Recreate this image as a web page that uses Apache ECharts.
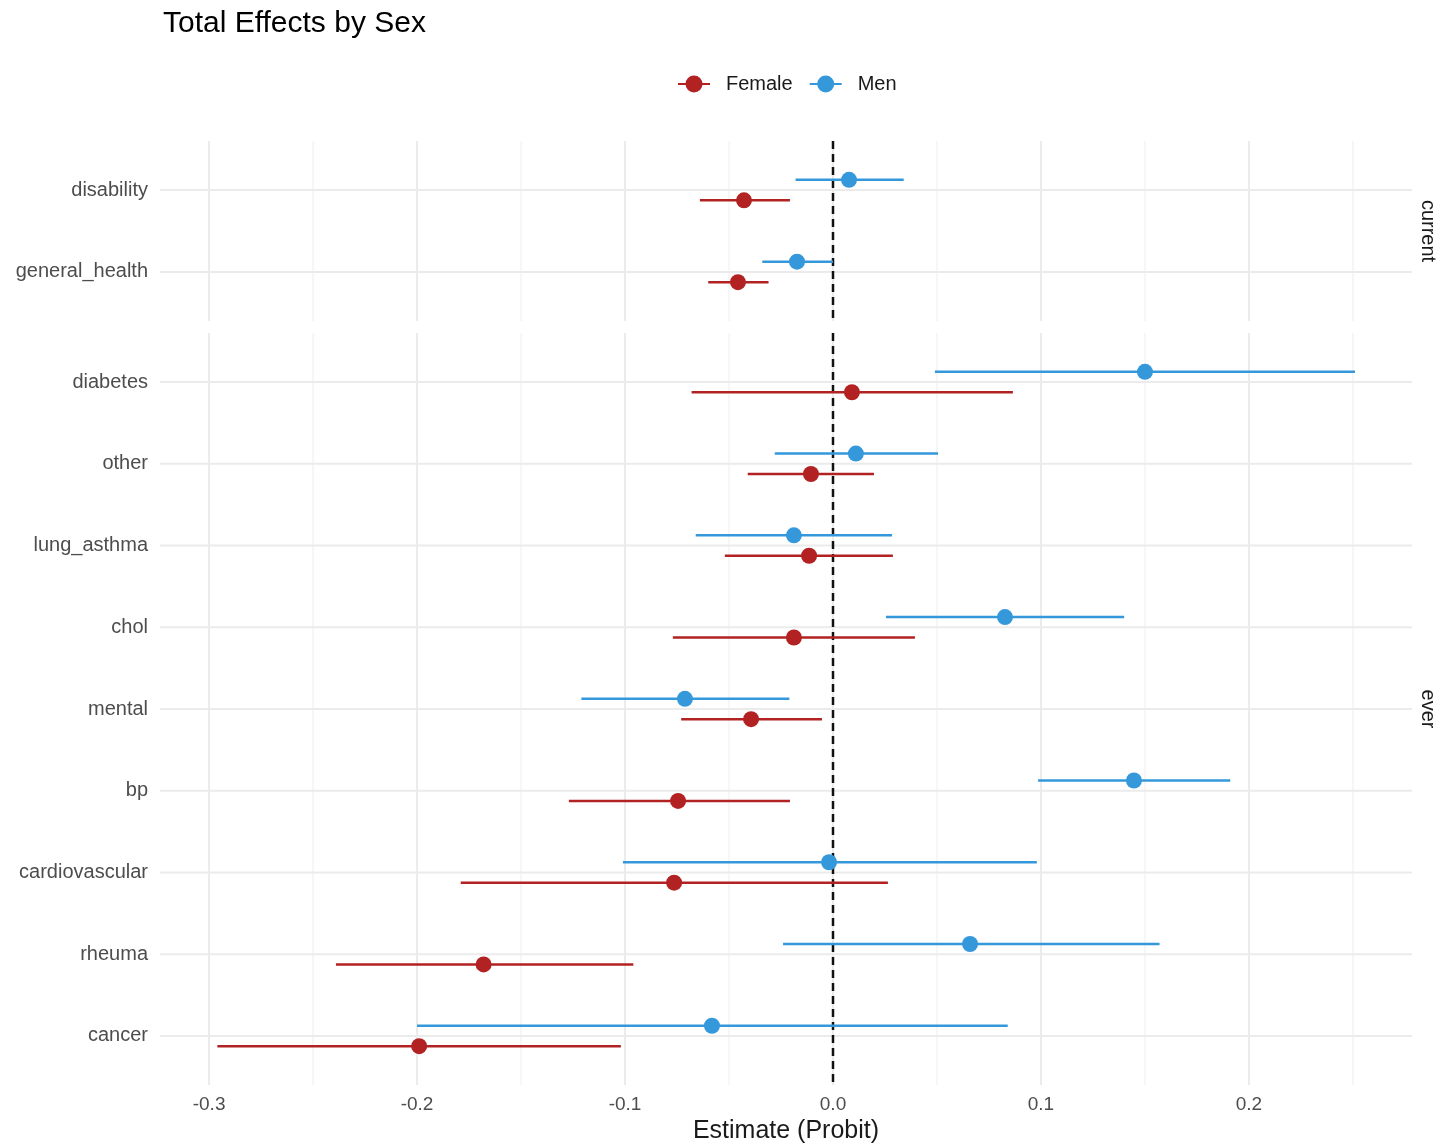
<!DOCTYPE html>
<html>
<head>
<meta charset="utf-8">
<script src="https://cdn.jsdelivr.net/npm/echarts@6/dist/echarts.min.js"></script>
<style>html,body{margin:0;padding:0;background:#fff}#c{width:1444px;height:1146px}</style>
</head>
<body>
<div id="c"></div>
<script>
// ---- data ----
var currentCats = ['disability', 'general_health'];
var everCats = ['diabetes', 'other', 'lung_asthma', 'chol', 'mental', 'bp', 'cardiovascular', 'rheuma', 'cancer'];

// [estimate, lower, upper] per category, in the order above
var femaleCurrent = [[-0.0428, -0.064, -0.0207], [-0.0457, -0.060, -0.031]];
var menCurrent = [[0.0077, -0.018, 0.034], [-0.0173, -0.034, 0.0]];
var femaleEver = [
  [0.0091, -0.068, 0.0865],
  [-0.0106, -0.041, 0.0197],
  [-0.0115, -0.052, 0.0288],
  [-0.0188, -0.077, 0.0394],
  [-0.0394, -0.073, -0.0053],
  [-0.0745, -0.127, -0.0207],
  [-0.0764, -0.179, 0.0264],
  [-0.168, -0.239, -0.096],
  [-0.199, -0.296, -0.102]
];
var menEver = [
  [0.150, 0.049, 0.251],
  [0.011, -0.028, 0.0505],
  [-0.0188, -0.066, 0.0284],
  [0.0827, 0.0255, 0.140],
  [-0.0712, -0.121, -0.021],
  [0.1447, 0.0986, 0.191],
  [-0.0019, -0.101, 0.098],
  [0.0659, -0.024, 0.157],
  [-0.0582, -0.200, 0.084]
];
var xMajorTicks = [-0.3, -0.2, -0.1, 0.0, 0.1, 0.2];
var xMinorTicks = [-0.25, -0.15, -0.05, 0.05, 0.15, 0.25];
var xMin = -0.3236, xMax = 0.2784;

// ---- styling ----
var RED = '#B22222', BLUE = '#3498DB';
var DODGE = 0.125;
var FONT = '"Liberation Sans", Arial, sans-serif';

function rows(arr, off) {
  return arr.map(function (d, i) { return [d[0], d[1], d[2], i + off]; });
}

function renderCI(color) {
  return function (params, api) {
    var est = api.value(0), lo = api.value(1), hi = api.value(2), y = api.value(3);
    var pLo = api.coord([lo, y]), pHi = api.coord([hi, y]), pE = api.coord([est, y]);
    return {
      type: 'group',
      children: [
        { type: 'line', shape: { x1: pLo[0], y1: pLo[1], x2: pHi[0], y2: pHi[1] }, style: { stroke: color, lineWidth: 2.5 } },
        { type: 'circle', shape: { cx: pE[0], cy: pE[1], r: 8 }, style: { fill: color } }
      ]
    };
  };
}

function gridLinesSeries(gi, cats) {
  var data = [];
  xMinorTicks.forEach(function (t) { data.push([t, 'vminor']); });
  xMajorTicks.forEach(function (t) { data.push([t, 'vmajor']); });
  cats.forEach(function (c, i) { data.push([i, 'h']); });
  return {
    type: 'custom', xAxisIndex: gi, yAxisIndex: gi, silent: true, z: 0,
    data: data,
    encode: { x: -1, y: -1 },
    renderItem: function (params, api) {
      var cs = params.coordSys;
      var v = api.value(0), kind = data[params.dataIndex][1];
      if (kind === 'h') {
        var p = api.coord([0, v]);
        return { type: 'line', shape: { x1: cs.x, y1: p[1], x2: cs.x + cs.width, y2: p[1] }, style: { stroke: '#EBEBEB', lineWidth: 2 } };
      }
      var q = api.coord([v, 0]);
      return { type: 'line', shape: { x1: q[0], y1: cs.y, x2: q[0], y2: cs.y + cs.height },
        style: { stroke: kind === 'vmajor' ? '#EBEBEB' : '#F2F2F2', lineWidth: kind === 'vmajor' ? 2 : 1.3 } };
    }
  };
}

function zeroLine(gi) {
  return {
    type: 'custom', xAxisIndex: gi, yAxisIndex: gi, silent: true, z: 1,
    data: [[0]], encode: { x: 0, y: -1 },
    renderItem: function (params, api) {
      var cs = params.coordSys;
      var p = api.coord([0, 0]);
      return { type: 'line', shape: { x1: p[0], y1: cs.y, x2: p[0], y2: cs.y + cs.height },
        style: { stroke: '#111', lineWidth: 2.5, lineDash: [8, 5] } };
    }
  };
}

function yAxisFor(gi, cats) {
  return {
    type: 'value', gridIndex: gi, inverse: true,
    min: -0.6, max: cats.length - 0.4,
    splitLine: { show: false }, axisLine: { show: false }, axisTick: { show: false },
    axisLabel: {
      customValues: cats.map(function (c, i) { return i; }),
      formatter: function (v) { return cats[Math.round(v)] || ''; },
      color: '#4D4D4D', fontSize: 20, fontFamily: FONT, margin: 12
    }
  };
}

function xAxisFor(gi, showLabels) {
  return {
    type: 'value', gridIndex: gi, min: xMin, max: xMax,
    splitLine: { show: false }, axisLine: { show: false }, axisTick: { show: false },
    axisLabel: showLabels ? {
      customValues: xMajorTicks,
      formatter: function (v) { return v.toFixed(1); },
      color: '#4D4D4D', fontSize: 19, fontFamily: FONT, margin: 10
    } : { show: false },
    name: showLabels ? 'Estimate (Probit)' : '',
    nameLocation: 'middle', nameGap: 33,
    nameTextStyle: { color: '#1a1a1a', fontSize: 25, fontFamily: FONT }
  };
}

var legendIcon = 'path://M0,7.5 L32,7.5 L32,9.5 L0,9.5 Z M24.5,8.5 A8.5,8.5 0 1,1 7.5,8.5 A8.5,8.5 0 1,1 24.5,8.5 Z';

var option = {
  animation: false,
  backgroundColor: '#fff',
  title: {
    text: 'Total Effects by Sex', left: 158, top: 4,
    textStyle: { fontSize: 30, fontWeight: 'normal', color: '#000', fontFamily: FONT }
  },
  legend: {
    top: 69, left: 673,
    data: [{ name: 'Female', icon: legendIcon }, { name: 'Men', icon: legendIcon }],
    itemWidth: 32, itemHeight: 17, itemGap: 17,
    textStyle: { fontSize: 20, color: '#1a1a1a', fontFamily: FONT, padding: [0, 0, 0, 11] }
  },
  grid: [
    { left: 160, right: 32, top: 141, height: 180, outerBoundsMode: 'none', containLabel: false },
    { left: 160, right: 32, top: 333, height: 752, outerBoundsMode: 'none', containLabel: false }
  ],
  xAxis: [xAxisFor(0, false), xAxisFor(1, true)],
  yAxis: [yAxisFor(0, currentCats), yAxisFor(1, everCats)],
  graphic: [
    { type: 'text', x: 1428, y: 231, rotation: -Math.PI / 2,
      style: { text: 'current', fill: '#1a1a1a', font: '20px ' + FONT, align: 'center', verticalAlign: 'middle' } },
    { type: 'text', x: 1428, y: 709, rotation: -Math.PI / 2,
      style: { text: 'ever', fill: '#1a1a1a', font: '20px ' + FONT, align: 'center', verticalAlign: 'middle' } }
  ],
  series: [
    gridLinesSeries(0, currentCats),
    gridLinesSeries(1, everCats),
    zeroLine(0),
    zeroLine(1),
    { name: 'Female', type: 'custom', xAxisIndex: 0, yAxisIndex: 0, z: 3, itemStyle: { color: RED },
      data: rows(femaleCurrent, DODGE), encode: { x: [0, 1, 2], y: 3 }, renderItem: renderCI(RED) },
    { name: 'Men', type: 'custom', xAxisIndex: 0, yAxisIndex: 0, z: 3, itemStyle: { color: BLUE },
      data: rows(menCurrent, -DODGE), encode: { x: [0, 1, 2], y: 3 }, renderItem: renderCI(BLUE) },
    { name: 'Female', type: 'custom', xAxisIndex: 1, yAxisIndex: 1, z: 3, itemStyle: { color: RED },
      data: rows(femaleEver, DODGE), encode: { x: [0, 1, 2], y: 3 }, renderItem: renderCI(RED) },
    { name: 'Men', type: 'custom', xAxisIndex: 1, yAxisIndex: 1, z: 3, itemStyle: { color: BLUE },
      data: rows(menEver, -DODGE), encode: { x: [0, 1, 2], y: 3 }, renderItem: renderCI(BLUE) }
  ]
};

var chart = echarts.init(document.getElementById('c'), null, { renderer: 'canvas' });
chart.setOption(option);
</script>
</body>
</html>
